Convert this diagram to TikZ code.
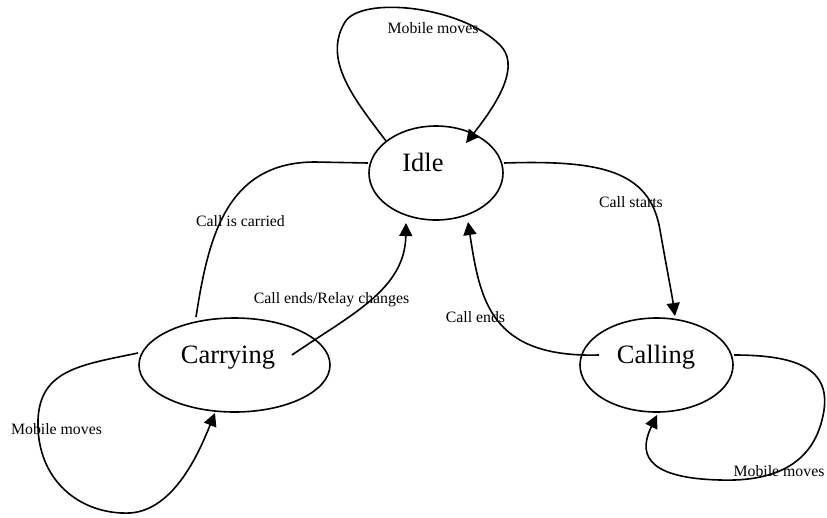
\documentclass[tikz,border=0pt]{standalone}
\usepackage{fontspec}
\setmainfont{Liberation Serif}
\usetikzlibrary{shapes.geometric,arrows.meta}
\begin{document}
\begin{tikzpicture}[x=1pt,y=-1pt,
  state/.style={ellipse,draw,line width=1.6pt,inner sep=0pt,minimum height=94pt},
  edge/.style={line width=1.6pt},
  arr/.style={edge,-{Triangle[length=13pt,width=13pt]}},
  lbl/.style={font=\fontsize{15.8}{18}\selectfont,inner sep=0pt,anchor=base},
  big/.style={font=\fontsize{26.5}{30}\selectfont,inner sep=0pt,anchor=base}]
\fill[white] (0,0) rectangle (827,517);
\useasboundingbox (0,0) rectangle (827,517);
% states
\node[state,minimum width=134pt] (idle) at (436,173) {};
\node[state,minimum width=191pt] (carrying) at (234.5,365) {};
\node[state,minimum width=153pt] (calling) at (656.5,365) {};
\node[big] (tidle) at (423,171) {Idle};
\node[big] (tcarrying) at (228,363) {Carrying};
\node[big] (tcalling) at (656,363) {Calling};
% Idle self loop
\draw[arr] ([shift={(-50,-32)}]idle.center) .. controls (355,100) and (322,60) .. (345,22)
  .. controls (361,-4) and (460,5) .. (500,45)
  .. controls (520,65) and (500,100) .. ([shift={(30,-30)}]idle.center);
% Call starts
\draw[arr] ([shift={(68,-10)}]idle.center) .. controls (600,160) and (650,170) .. (660,230)
  .. controls (667,270) and (672,295) .. ([shift={(18.5,-49)}]calling.center);
% Call ends
\draw[arr] ([shift={(-57.5,-10)}]calling.center) .. controls (490,358) and (480,300) .. ([shift={(32,49)}]idle.center);
% Call is carried
\draw[edge] ([shift={(-38.5,-48)}]carrying.center) .. controls (208,240) and (225,162) .. (315,162)
  -- ([shift={(-68,-10)}]idle.center);
% Call ends/Relay changes
\draw[arr] ([shift={(57.5,-10)}]carrying.center) .. controls (350,315) and (405,290) .. ([shift={(-30,50)}]idle.center);
% Calling self loop
\draw[arr] ([shift={(77.5,-10)}]calling.center) .. controls (800,355) and (835,370) .. (822,420)
  .. controls (812,460) and (780,482) .. (720,480)
  .. controls (640,478) and (640,450) .. ([shift={(0.5,50)}]calling.center);
% Carrying self loop
\draw[arr] ([shift={(-96.5,-12)}]carrying.center) .. controls (80,365) and (40,370) .. (38,420)
  .. controls (36,480) and (80,515) .. (130,513)
  .. controls (175,510) and (200,450) .. ([shift={(-19.5,48)}]carrying.center);
% labels
\node[lbl] (l1) at (433,33) {Mobile moves};
\node[lbl] (l2) at (240.5,226) {Call is carried};
\node[lbl] (l3) at (331.5,303) {Call ends/Relay changes};
\node[lbl] (l4) at (631,207) {Call starts};
\node[lbl] (l5) at (475.5,322) {Call ends};
\node[lbl] (l6) at (779,476) {Mobile moves};
\node[lbl] (l7) at (56.5,434) {Mobile moves};
\end{tikzpicture}
\end{document}
